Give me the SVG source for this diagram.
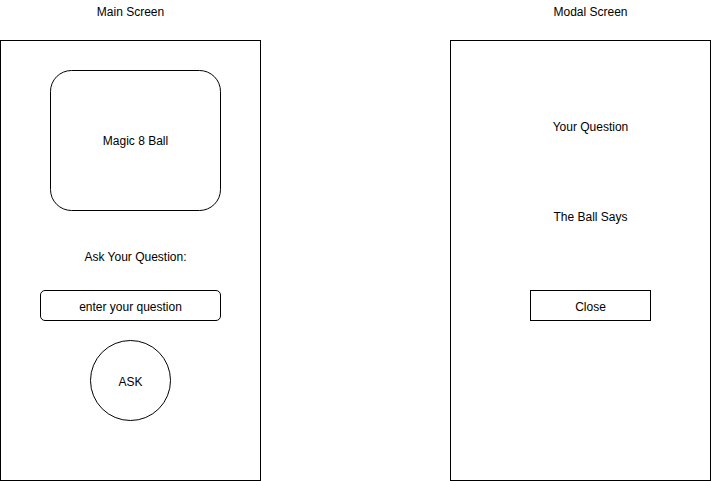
<svg xmlns="http://www.w3.org/2000/svg" width="711" height="481" viewBox="0 0 711 481">
<style>
.s{fill:#fff;stroke:#000;stroke-width:1}
text{font-family:"Liberation Sans",Arial,sans-serif;font-size:12px;fill:#000;text-anchor:middle}
</style>
<rect width="711" height="481" fill="#fff"/>
<g id="main-title"><text x="130.5" y="16">Main Screen</text></g>
<g id="modal-title"><text x="590.5" y="16">Modal Screen</text></g>
<g id="main-screen"><rect class="s" x="0.5" y="40.5" width="260" height="440"/></g>
<g id="modal-screen"><rect class="s" x="450.5" y="40.5" width="260" height="440"/></g>
<g id="magic-ball"><rect class="s" x="50.5" y="70.5" width="170" height="140" rx="21" ry="21"/><text x="135.5" y="145">Magic 8 Ball</text></g>
<g id="ask-label"><text x="135.5" y="261">Ask Your Question:</text></g>
<g id="question-input"><rect class="s" x="40.5" y="290.5" width="180" height="30" rx="4.5" ry="4.5"/><text x="130.5" y="311">enter your question</text></g>
<g id="ask-button"><circle class="s" cx="130.5" cy="380.5" r="40"/><text x="130.5" y="386">ASK</text></g>
<g id="your-question"><text x="590.5" y="131">Your Question</text></g>
<g id="ball-says"><text x="590.5" y="221">The Ball Says</text></g>
<g id="close-button"><rect class="s" x="530.5" y="290.5" width="120" height="30"/><text x="590.5" y="311">Close</text></g>
<g id="connectors"></g>
</svg>
